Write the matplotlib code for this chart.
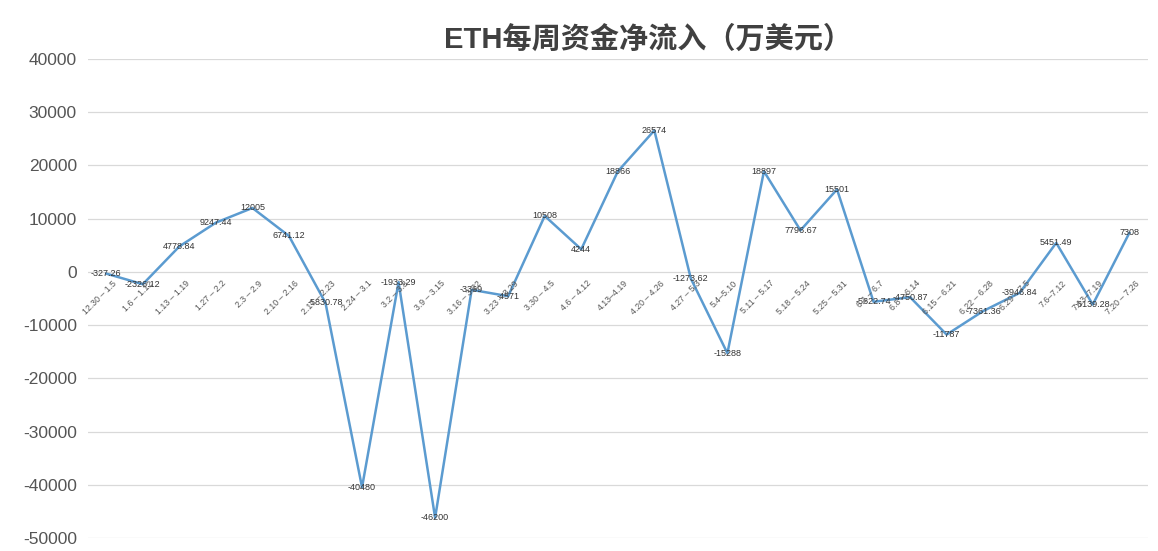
import matplotlib
matplotlib.use('Agg')
import matplotlib.pyplot as plt

plt.rcParams['font.family'] = ['Liberation Sans', 'Noto Sans CJK SC', 'DejaVu Sans']
plt.rcParams['axes.unicode_minus'] = False

weeks = ['12.30 – 1.5', '1.6 – 1.12', '1.13 – 1.19', '1.27 – 2.2', '2.3 – 2.9',
         '2.10 – 2.16', '2.17 – 2.23', '2.24 – 3.1', '3.2 – 3.8', '3.9 – 3.15',
         '3.16 – 3.22', '3.23 – 3.29', '3.30 – 4.5', '4.6 – 4.12', '4.13–4.19',
         '4.20 – 4.26', '4.27 – 5.3', '5.4–5.10', '5.11 – 5.17', '5.18 – 5.24',
         '5.25 – 5.31', '6.1 – 6.7', '6.8 – 6.14', '6.15 – 6.21', '6.22 – 6.28',
         '6.29 – 7.5', '7.6–7.12', '7.13–7.19', '7.20 – 7.26']
flows = [-327.26, -2326.12, 4778.84, 9247.44, 12005, 6741.12, -5830.78, -40480,
         -1933.29, -46200, -3369, -4571, 10508, 4244, 18866, 26574, -1273.62,
         -15288, 18897, 7796.67, 15501, -5622.74, -4750.87, -11787, -7361.36,
         -3946.84, 5451.49, -6139.28, 7308]
labels = ['-327.26', '-2326.12', '4778.84', '9247.44', '12005', '6741.12', '-5830.78',
          '-40480', '-1933.29', '-46200', '-3369', '-4571', '10508', '4244', '18866',
          '26574', '-1273.62', '-15288', '18897', '7796.67', '15501', '-5622.74',
          '-4750.87', '-11787', '-7361.36', '-3946.84', '5451.49', '-6139.28', '7308']

fig = plt.figure(figsize=(11.58, 5.51), dpi=100)
ax = fig.add_axes([0.076, 0.0236, 0.915, 0.8694])

x = list(range(len(weeks)))
ax.plot(x, flows, color='#5b9bd0', linewidth=1.8, zorder=3)

for i, (v, s) in enumerate(zip(flows, labels)):
    ax.text(i, v, s, fontsize=6.5, color='#333333', ha='center', va='center', zorder=4)

# category labels sit on the zero line
for i, w in enumerate(weeks):
    ax.annotate(w, xy=(i, 0), xytext=(4, -5), textcoords='offset points',
                fontsize=6.3, color='#555555', rotation=45,
                ha='right', va='top', rotation_mode='anchor', zorder=4)

ax.set_xlim(-0.5, len(weeks) - 0.5)
ax.set_ylim(-50000, 40000)
ax.set_yticks(range(-50000, 40001, 10000))
ax.set_xticks([])
ax.tick_params(axis='y', length=0, labelsize=12.5, labelcolor='#555555', pad=8)
ax.grid(axis='y', color='#d9d9d9', linewidth=0.9)
ax.set_axisbelow(True)
for sp in ax.spines.values():
    sp.set_visible(False)

fig.text(0.56, 0.928, 'ETH每周资金净流入（万美元）', fontsize=21, color='#404040',
         fontweight='bold', ha='center', va='center')

fig.savefig('out.png', dpi=100)
